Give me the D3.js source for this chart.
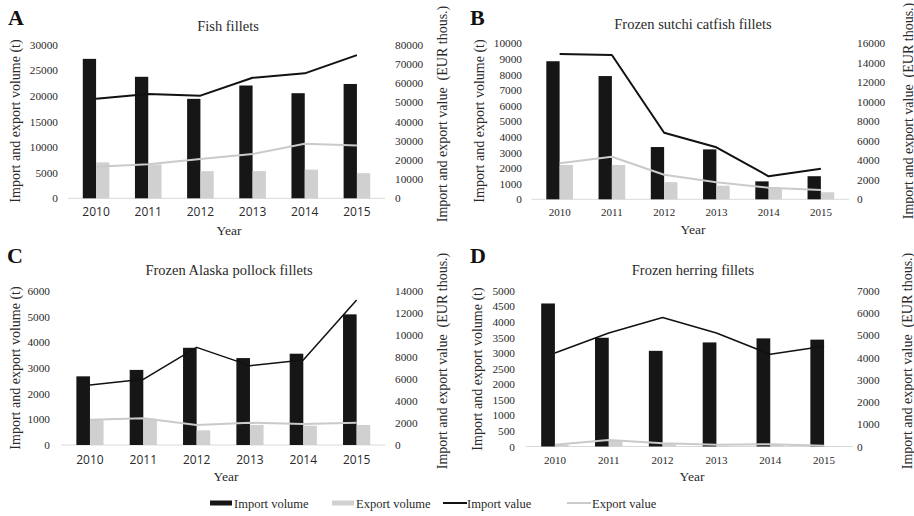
<!DOCTYPE html>
<html>
<head>
<meta charset="utf-8">
<script src="https://cdn.jsdelivr.net/npm/d3@7"></script>
<style>
  html, body { margin: 0; padding: 0; background: #fff; }
  svg { display: block; }
</style>
</head>
<body>
<svg id="chart" width="914" height="516"></svg>
<script>
// Years on the category axis
const years = ["2010", "2011", "2012", "2013", "2014", "2015"];

// A: fish fillets (volume in t, value in EUR thous.)
const fishImportVolume = [27200, 23700, 19400, 22000, 20500, 22300];
const fishExportVolume = [7000, 6600, 5300, 5300, 5600, 4900];
const fishImportValue  = [51800, 54200, 53400, 62700, 65000, 74500];
const fishExportValue  = [16400, 17700, 20400, 23000, 28400, 27400];

// B: frozen sutchi catfish fillets
const catfishImportVolume = [8850, 7900, 3350, 3200, 1150, 1480];
const catfishExportVolume = [2200, 2200, 1100, 870, 700, 450];
const catfishImportValue  = [14900, 14800, 6830, 5330, 2360, 3140];
const catfishExportValue  = [3690, 4370, 2520, 1740, 1190, 950];

// C: frozen Alaska pollock fillets
const pollockImportVolume = [2670, 2920, 3780, 3380, 3550, 5080];
const pollockExportVolume = [1000, 1020, 570, 780, 750, 780];
const pollockImportValue  = [5440, 5960, 8860, 7200, 7710, 13160];
const pollockExportValue  = [2300, 2420, 1820, 2020, 1900, 2020];

// D: frozen herring fillets
const herringImportVolume = [4590, 3490, 3070, 3340, 3470, 3430];
const herringExportVolume = [60, 190, 90, 20, 50, 10];
const herringImportValue  = [4200, 5100, 5800, 5100, 4140, 4500];
const herringExportValue  = [80, 290, 150, 80, 100, 30];

// Tick values for the volume (left) and value (right) axes
const fishVolumeTicks    = [0, 5000, 10000, 15000, 20000, 25000, 30000];
const fishValueTicks     = [0, 10000, 20000, 30000, 40000, 50000, 60000, 70000, 80000];
const catfishVolumeTicks = [0, 1000, 2000, 3000, 4000, 5000, 6000, 7000, 8000, 9000, 10000];
const catfishValueTicks  = [0, 2000, 4000, 6000, 8000, 10000, 12000, 14000, 16000];
const pollockVolumeTicks = [0, 1000, 2000, 3000, 4000, 5000, 6000];
const pollockValueTicks  = [0, 2000, 4000, 6000, 8000, 10000, 12000, 14000];
const herringVolumeTicks = [0, 500, 1000, 1500, 2000, 2500, 3000, 3500, 4000, 4500, 5000];
const herringValueTicks  = [0, 1000, 2000, 3000, 4000, 5000, 6000, 7000];

const legendLabels = ["Import volume", "Export volume", "Import value", "Export value"];

const SERIF = "'Liberation Serif', 'Times New Roman', Times, serif";
const SANS = "'Open Sans', 'Liberation Sans', Arial, sans-serif";
const C_IMPORT_BAR = "#161616";
const C_EXPORT_BAR = "#d0d0d0";
const C_IMPORT_LINE = "#111111";
const C_EXPORT_LINE = "#cacaca";
const C_TEXT = "#2a2a2a";

const svg = d3.select("#chart");

const panels = [
  {
    letter: "A", title: "Fish fillets",
    impVol: fishImportVolume, expVol: fishExportVolume,
    impVal: fishImportValue, expVal: fishExportValue,
    volTicks: fishVolumeTicks, valTicks: fishValueTicks,
    x0: 70, x1: 383, base: 198.3, top: 44.5,
    leftLabelX: 58, rightLabelX: 395,
    leftTitle: [15, 121], rightTitle: [442, 114],
    titlePos: [228, 31], letterPos: [8, 25],
    xLabelY: 216.5, yearPos: [229, 234.5], xFont: SANS, lineW: 2
  },
  {
    letter: "B", title: "Frozen sutchi catfish fillets",
    impVol: catfishImportVolume, expVol: catfishExportVolume,
    impVal: catfishImportValue, expVal: catfishExportValue,
    volTicks: catfishVolumeTicks, valTicks: catfishValueTicks,
    x0: 533.5, x1: 847, base: 199.3, top: 43.3,
    leftLabelX: 522, rightLabelX: 857,
    leftTitle: [479, 121], rightTitle: [908, 111],
    titlePos: [693, 29], letterPos: [470, 25],
    xLabelY: 216, yearPos: [693, 234], xFont: SERIF, lineW: 2
  },
  {
    letter: "C", title: "Frozen Alaska pollock fillets",
    impVol: pollockImportVolume, expVol: pollockExportVolume,
    impVal: pollockImportValue, expVal: pollockExportValue,
    volTicks: pollockVolumeTicks, valTicks: pollockValueTicks,
    x0: 63.3, x1: 383.3, base: 445, top: 290.7,
    leftLabelX: 50, rightLabelX: 395,
    leftTitle: [15, 368], rightTitle: [442, 361],
    titlePos: [229, 275], letterPos: [7, 263],
    xLabelY: 463.5, yearPos: [226, 481], xFont: SANS, lineW: 1.5
  },
  {
    letter: "D", title: "Frozen herring fillets",
    impVol: herringImportVolume, expVol: herringExportVolume,
    impVal: herringImportValue, expVal: herringExportValue,
    volTicks: herringVolumeTicks, valTicks: herringValueTicks,
    x0: 528, x1: 851, base: 446.5, top: 290.7,
    leftLabelX: 515, rightLabelX: 857,
    leftTitle: [477, 369], rightTitle: [907, 361],
    titlePos: [693, 275], letterPos: [470, 263],
    xLabelY: 464, yearPos: [692, 481], xFont: SERIF, lineW: 1.5
  }
];

panels.forEach(drawPanel);

function drawPanel(p) {
  const g = svg.append("g");

  const x = d3.scaleBand().domain(years).range([p.x0, p.x1])
    .paddingInner(0.49).paddingOuter(0.245);
  const xs = d3.scaleBand().domain(["imp", "exp"]).range([0, x.bandwidth()]);
  const yL = d3.scaleLinear().domain([0, d3.max(p.volTicks)]).range([p.base, p.top]);
  const yR = d3.scaleLinear().domain([0, d3.max(p.valTicks)]).range([p.base, p.top]);
  const cx = d => x(d) + x.bandwidth() / 2;

  // baseline
  g.append("line")
    .attr("x1", p.x0 - 2).attr("x2", p.x1 + 2)
    .attr("y1", p.base).attr("y2", p.base)
    .attr("stroke", "#d9d9d9").attr("stroke-width", 1);

  // bars
  const rows = years.map((yr, i) => ({ yr, imp: p.impVol[i], exp: p.expVol[i] }));
  g.selectAll("rect.imp").data(rows).join("rect")
    .attr("x", d => x(d.yr) + xs("imp"))
    .attr("width", xs.bandwidth())
    .attr("y", d => yL(d.imp))
    .attr("height", d => p.base - yL(d.imp))
    .attr("fill", C_IMPORT_BAR);
  g.selectAll("rect.exp").data(rows).join("rect")
    .attr("x", d => x(d.yr) + xs("exp"))
    .attr("width", xs.bandwidth())
    .attr("y", d => yL(d.exp))
    .attr("height", d => p.base - yL(d.exp))
    .attr("fill", C_EXPORT_BAR);

  // value lines on the secondary axis
  const line = d3.line().x(d => cx(d[0])).y(d => yR(d[1]));
  g.append("path")
    .datum(years.map((yr, i) => [yr, p.impVal[i]]))
    .attr("d", line).attr("fill", "none")
    .attr("stroke", C_IMPORT_LINE).attr("stroke-width", p.lineW)
    .attr("stroke-linejoin", "round");
  g.append("path")
    .datum(years.map((yr, i) => [yr, p.expVal[i]]))
    .attr("d", line).attr("fill", "none")
    .attr("stroke", C_EXPORT_LINE).attr("stroke-width", 2)
    .attr("stroke-linejoin", "round");

  // left axis labels
  const la = g.append("g").attr("transform", `translate(${p.leftLabelX},0)`)
    .call(d3.axisLeft(yL).tickValues(p.volTicks).tickSize(0).tickPadding(0).tickFormat(d3.format("d")));
  la.select(".domain").remove();
  la.selectAll("text").attr("font-family", SERIF).attr("font-size", 11.3).attr("fill", C_TEXT);

  // right axis labels
  const ra = g.append("g").attr("transform", `translate(${p.rightLabelX},0)`)
    .call(d3.axisRight(yR).tickValues(p.valTicks).tickSize(0).tickPadding(0).tickFormat(d3.format("d")));
  ra.select(".domain").remove();
  ra.selectAll("text").attr("font-family", SERIF).attr("font-size", 11.3).attr("fill", C_TEXT);

  // category labels
  const xfs = p.xFont === SANS ? 12 : 11;
  const xa = g.append("g").attr("transform", `translate(0,${p.base})`)
    .call(d3.axisBottom(x).tickSize(0).tickPadding(p.xLabelY - p.base - 0.71 * xfs));
  xa.select(".domain").remove();
  xa.selectAll("text").attr("font-family", p.xFont).attr("font-size", xfs).attr("fill", C_TEXT);

  // titles
  g.append("text").attr("x", p.titlePos[0]).attr("y", p.titlePos[1])
    .attr("text-anchor", "middle").attr("font-family", SERIF).attr("font-size", 14.5)
    .attr("fill", C_TEXT).text(p.title);
  g.append("text").attr("x", p.letterPos[0]).attr("y", p.letterPos[1])
    .attr("font-family", SERIF).attr("font-weight", "bold").attr("font-size", 22)
    .attr("fill", "#111").text(p.letter);
  g.append("text").attr("x", p.yearPos[0]).attr("y", p.yearPos[1])
    .attr("text-anchor", "middle").attr("font-family", SERIF).attr("font-size", 13.5)
    .attr("fill", C_TEXT).text("Year");
  g.append("text")
    .attr("transform", `translate(${p.leftTitle[0]},${p.leftTitle[1]}) rotate(-90)`)
    .attr("text-anchor", "middle").attr("dominant-baseline", "central")
    .attr("font-family", SERIF).attr("font-size", 14).attr("fill", C_TEXT)
    .text("Import and export volume (t)");
  g.append("text")
    .attr("transform", `translate(${p.rightTitle[0]},${p.rightTitle[1]}) rotate(-90)`)
    .attr("text-anchor", "middle").attr("dominant-baseline", "central")
    .attr("font-family", SERIF).attr("font-size", 14).attr("fill", C_TEXT)
    .attr("xml:space", "preserve").style("white-space", "pre")
    .text("Import and export value  (EUR thous.)");
}

// legend
const legend = svg.append("g");
const legendX = [210, 332, 443, 567];
const legendTextX = [234, 356, 467, 592];
const legendKinds = ["bar", "bar", "line", "line"];
const legendColors = [C_IMPORT_BAR, C_EXPORT_BAR, C_IMPORT_LINE, C_EXPORT_LINE];
legendLabels.forEach((lab, i) => {
  if (legendKinds[i] === "bar") {
    legend.append("rect").attr("x", legendX[i]).attr("y", 500.5)
      .attr("width", 22).attr("height", 5).attr("fill", legendColors[i]);
  } else {
    legend.append("line").attr("x1", legendX[i]).attr("x2", legendX[i] + 24)
      .attr("y1", 503).attr("y2", 503)
      .attr("stroke", legendColors[i]).attr("stroke-width", 2);
  }
  legend.append("text").attr("x", legendTextX[i]).attr("y", 507.5)
    .attr("font-family", SERIF).attr("font-size", 12.5).attr("fill", C_TEXT).text(lab);
});
</script>
</body>
</html>
